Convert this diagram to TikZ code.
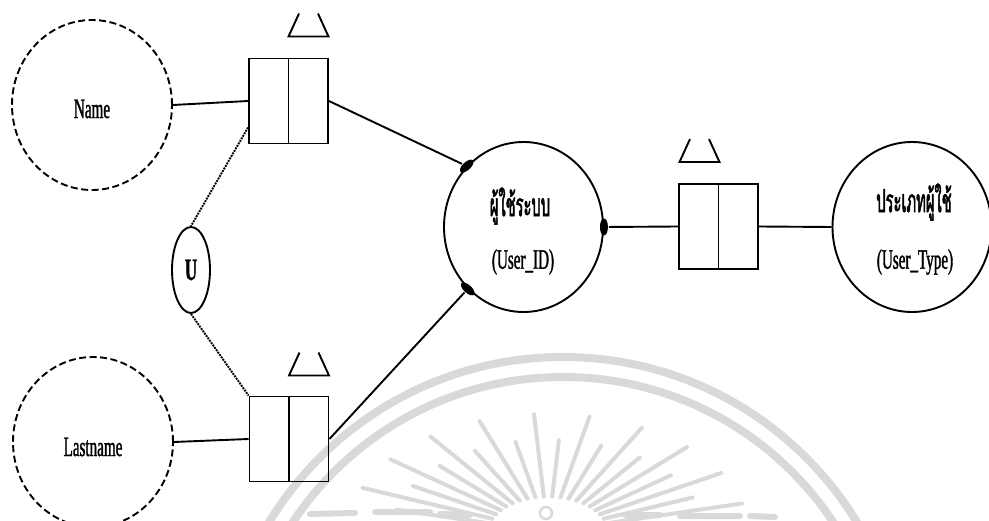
\documentclass[tikz,border=0pt]{standalone}
\usepackage{fontspec}
\setmainfont{Liberation Serif}[FakeStretch=0.54, FakeBold=1.2]
\newfontfamily\thaifont[Script=Thai,FakeStretch=0.46,FakeBold=1.5]{Loma}
\usetikzlibrary{shapes.geometric}

\begin{document}
\begin{tikzpicture}[x=1pt, y=-1pt, line width=1.9pt,
  attr/.style={draw, ellipse, dash pattern=on 7pt off 3.5pt,
    minimum width=160pt, minimum height=170pt, inner sep=0pt},
  entity/.style={draw, ellipse, minimum width=159pt, minimum height=170pt, inner sep=0pt},
  relbox/.style={draw, rectangle, minimum width=79pt, minimum height=85pt, inner sep=0pt,
    path picture={\draw[line width=1.9pt] (path picture bounding box.north) -- (path picture bounding box.south);}},
  joint/.style={fill, ellipse, minimum width=8pt, minimum height=17pt, inner sep=0pt},
  unionmark/.style={draw, ellipse, minimum width=38pt, minimum height=86pt, inner sep=0pt,
    font=\fontsize{31}{33}\selectfont\bfseries},
  latin/.style={font=\fontsize{28}{30}\selectfont, inner sep=0pt},
  thai/.style={font=\thaifont\fontsize{32}{34}\selectfont, inner sep=0pt},
  opentri/.pic={\draw[line width=1.9pt] (-9.5pt,23pt) -- (-20pt,0pt) -- (20pt,0pt) -- (9.5pt,23pt);},
  seal/.style={draw=black!15, line cap=round}
]
\useasboundingbox (0,0) rectangle (989,521);

% faint seal in the background
\begin{scope}
  \clip (0,0) rectangle (989,521);
  \draw[seal, line width=8pt] (563,701) circle[radius=344];
  \draw[seal, line width=8pt] (563,701) circle[radius=324];
  \foreach \a [count=\i] in {14,22,...,166} {
    \pgfmathsetmacro{\f}{ifthenelse(mod(\i,2)==0,0.78,1)}
    \draw[seal, line width=4pt]
      ({548+0.3*200*cos(\a)},{532-0.3*118*sin(\a)}) --
      ({548+\f*200*cos(\a)},{532-\f*118*sin(\a)});
  }
  \draw[seal, line width=2.5pt] (546,513) circle[radius=6];
  \draw[seal, line width=6pt] (310,514) -- (355,513) (375,512) -- (430,512) (440,514) -- (470,515);
  \draw[seal, line width=6pt] (625,515) -- (660,515) (680,516) -- (740,516) (750,516) -- (775,517);
\end{scope}

% attribute and entity nodes
\node[attr] (name) at (92,105) {};
\node[latin] (nametxt) at (92,109) {Name};
\node[attr] (lastname) at (93,442) {};
\node[latin] (lasttxt) at (93,447) {Lastname};

\node[entity] (user) at (523.5,227) {};
\node[thai] (usertxt) at (520,206) {ผู้ใช้ระบบ};
\node[latin] (useridtxt) at (523,262) {(User\_ID)};

\node[entity] (utype) at (912,227) {};
\node[thai] (utypetxt) at (914,202) {ประเภทผู้ใช้};
\node[latin] (utypeidtxt) at (915,262) {(User\_Type)};

\node[unionmark] (u) at (191,270) {U};

% relationship boxes with their marks
\node[relbox] (boxa) at (288.5,101) {};
\node[relbox] (boxb) at (289,439) {};
\node[relbox] (boxc) at (718.5,226.5) {};
\pic at ([xshift=20pt,yshift=21pt]boxa.north) {opentri};
\pic at ([xshift=20pt,yshift=20pt]boxb.north) {opentri};
\pic at ([xshift=-19pt,yshift=21pt]boxc.north) {opentri};

% joints on the entity
\node[joint, rotate=-47] (ja) at (user.133) {};
\node[joint, rotate=48] (jb) at (user.228) {};
\node[joint] (jc) at (user.east) {};

% connectors
\draw (name.east) -- (boxa.west);
\draw (lastname.east) -- (boxb.west);
\draw (boxa.east) -- (ja);
\draw (boxb.east) -- (jb);
\draw (jc) -- (boxc.west);
\draw (boxc.east) -- (utype.west);
\draw[densely dotted] ([yshift=17pt]boxa.south west) -- (u.north);
\draw[densely dotted] (u.south) -- (boxb.north west);
\end{tikzpicture}
\end{document}
